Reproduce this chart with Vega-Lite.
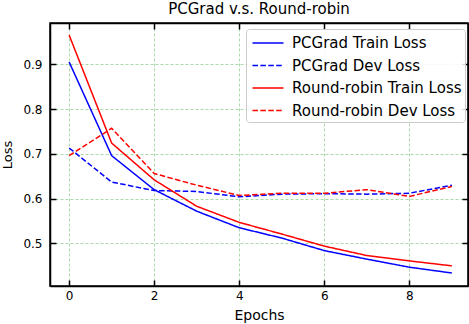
{
  "$schema": "https://vega.github.io/schema/vega-lite/v6.json",
  "width": 418,
  "height": 263,
  "autosize": {"type": "none"},
  "padding": {"left": 50, "top": 23, "right": 1, "bottom": 38},
  "background": "white",
  "title": {"text": "PCGrad v.s. Round-robin", "fontSize": 15, "font": "DejaVu Sans", "fontWeight": "normal", "offset": 5, "color": "black", "anchor": "middle"},
  "config": {
    "view": {"stroke": "black", "strokeWidth": 1.5},
    "axis": {
      "domainColor": "black", "domainWidth": 1.5,
      "tickColor": "black", "tickWidth": 1.5, "tickSize": -6,
      "labelFont": "DejaVu Sans", "labelFontSize": 12, "labelColor": "black",
      "titleFont": "DejaVu Sans", "titleFontWeight": "normal", "titleColor": "black",
      "gridColor": "#2ca02c", "gridOpacity": 0.5, "gridDash": [3, 2], "gridWidth": 0.8
    },
    "legend": {
      "labelFont": "DejaVu Sans", "labelFontSize": 15, "labelColor": "black", "labelLimit": 400
    }
  },
  "data": {
    "values": [
      {"epoch": 0, "series": "PCGrad Train Loss", "loss": 0.905},
      {"epoch": 1, "series": "PCGrad Train Loss", "loss": 0.696},
      {"epoch": 2, "series": "PCGrad Train Loss", "loss": 0.620},
      {"epoch": 3, "series": "PCGrad Train Loss", "loss": 0.572},
      {"epoch": 4, "series": "PCGrad Train Loss", "loss": 0.535},
      {"epoch": 5, "series": "PCGrad Train Loss", "loss": 0.512},
      {"epoch": 6, "series": "PCGrad Train Loss", "loss": 0.484},
      {"epoch": 7, "series": "PCGrad Train Loss", "loss": 0.465},
      {"epoch": 8, "series": "PCGrad Train Loss", "loss": 0.447},
      {"epoch": 9, "series": "PCGrad Train Loss", "loss": 0.434},
      {"epoch": 0, "series": "PCGrad Dev Loss", "loss": 0.713},
      {"epoch": 1, "series": "PCGrad Dev Loss", "loss": 0.637},
      {"epoch": 2, "series": "PCGrad Dev Loss", "loss": 0.618},
      {"epoch": 3, "series": "PCGrad Dev Loss", "loss": 0.616},
      {"epoch": 4, "series": "PCGrad Dev Loss", "loss": 0.604},
      {"epoch": 5, "series": "PCGrad Dev Loss", "loss": 0.610},
      {"epoch": 6, "series": "PCGrad Dev Loss", "loss": 0.611},
      {"epoch": 7, "series": "PCGrad Dev Loss", "loss": 0.610},
      {"epoch": 8, "series": "PCGrad Dev Loss", "loss": 0.612},
      {"epoch": 9, "series": "PCGrad Dev Loss", "loss": 0.630},
      {"epoch": 0, "series": "Round-robin Train Loss", "loss": 0.965},
      {"epoch": 1, "series": "Round-robin Train Loss", "loss": 0.724},
      {"epoch": 2, "series": "Round-robin Train Loss", "loss": 0.642},
      {"epoch": 3, "series": "Round-robin Train Loss", "loss": 0.583},
      {"epoch": 4, "series": "Round-robin Train Loss", "loss": 0.547},
      {"epoch": 5, "series": "Round-robin Train Loss", "loss": 0.521},
      {"epoch": 6, "series": "Round-robin Train Loss", "loss": 0.494},
      {"epoch": 7, "series": "Round-robin Train Loss", "loss": 0.473},
      {"epoch": 8, "series": "Round-robin Train Loss", "loss": 0.461},
      {"epoch": 9, "series": "Round-robin Train Loss", "loss": 0.450},
      {"epoch": 0, "series": "Round-robin Dev Loss", "loss": 0.696},
      {"epoch": 1, "series": "Round-robin Dev Loss", "loss": 0.757},
      {"epoch": 2, "series": "Round-robin Dev Loss", "loss": 0.656},
      {"epoch": 3, "series": "Round-robin Dev Loss", "loss": 0.630},
      {"epoch": 4, "series": "Round-robin Dev Loss", "loss": 0.607},
      {"epoch": 5, "series": "Round-robin Dev Loss", "loss": 0.612},
      {"epoch": 6, "series": "Round-robin Dev Loss", "loss": 0.612},
      {"epoch": 7, "series": "Round-robin Dev Loss", "loss": 0.620},
      {"epoch": 8, "series": "Round-robin Dev Loss", "loss": 0.605},
      {"epoch": 9, "series": "Round-robin Dev Loss", "loss": 0.627}
    ]
  },
  "layer": [
    {
      "mark": {"type": "line", "strokeWidth": 1.5},
      "encoding": {
        "x": {
          "field": "epoch", "type": "quantitative",
          "scale": {"domain": [-0.45, 9.38], "nice": false, "zero": false},
          "axis": {"values": [0, 2, 4, 6, 8], "title": "Epochs", "titleFontSize": 14, "labelPadding": 10, "titlePadding": 7, "grid": true, "labelFlush": false}
        },
        "y": {
          "field": "loss", "type": "quantitative",
          "scale": {"domain": [0.405, 0.992], "nice": false, "zero": false},
          "axis": {"values": [0.5, 0.6, 0.7, 0.8, 0.9], "format": ".1f", "title": "Loss", "titleFontSize": 13, "labelPadding": 14, "titlePadding": 8, "grid": true}
        },
        "color": {
          "field": "series", "type": "nominal",
          "scale": {"domain": ["PCGrad Train Loss", "PCGrad Dev Loss", "Round-robin Train Loss", "Round-robin Dev Loss"], "range": ["blue", "blue", "red", "red"]},
          "legend": {"title": null, "orient": "none", "legendX": 196, "legendY": 6, "symbolType": "M-1.55,0H1.55", "symbolSize": 400, "symbolStrokeWidth": 1.5, "symbolOffset": 8, "labelOffset": 13, "rowPadding": 3.5, "padding": 3, "strokeColor": "#cccccc", "cornerRadius": 3, "fillColor": "rgba(255,255,255,0.85)"}
        },
        "strokeDash": {
          "field": "series", "type": "nominal",
          "scale": {"domain": ["PCGrad Train Loss", "PCGrad Dev Loss", "Round-robin Train Loss", "Round-robin Dev Loss"], "range": [[1, 0], [5.5, 2.4], [1, 0], [5.5, 2.4]]},
          "legend": {"title": null, "orient": "none", "legendX": 196, "legendY": 6, "symbolType": "M-1.55,0H1.55", "symbolSize": 400, "symbolStrokeWidth": 1.5, "symbolOffset": 8, "labelOffset": 13, "rowPadding": 3.5, "padding": 3, "strokeColor": "#cccccc", "cornerRadius": 3, "fillColor": "rgba(255,255,255,0.85)"}
        }
      }
    },
    {
      "mark": {"type": "point", "opacity": 0},
      "encoding": {
        "x": {"field": "epoch", "type": "quantitative", "axis": {"orient": "top", "values": [0, 2, 4, 6, 8], "labels": false, "title": null, "grid": false}},
        "y": {"field": "loss", "type": "quantitative", "axis": {"orient": "right", "values": [0.5, 0.6, 0.7, 0.8, 0.9], "labels": false, "title": null, "grid": false}}
      }
    }
  ],
  "resolve": {"axis": {"x": "independent", "y": "independent"}}
}
